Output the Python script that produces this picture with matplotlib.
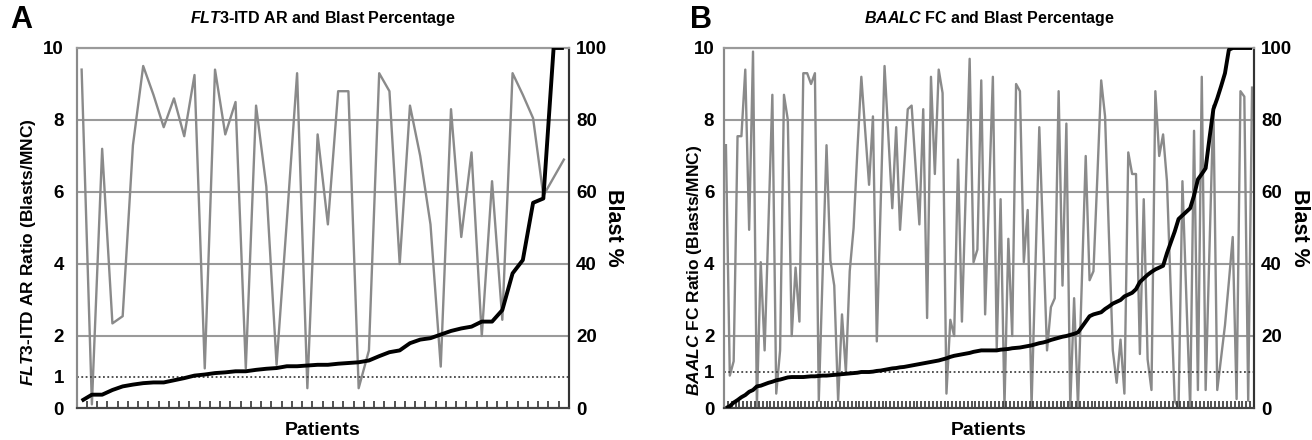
import numpy as np
import matplotlib
matplotlib.use("Agg")
import matplotlib.pyplot as plt

plt.rcParams['font.family'] = ['Liberation Sans', 'DejaVu Sans']
plt.rcParams['font.weight'] = 'bold'
plt.rcParams['mathtext.fontset'] = 'custom'
plt.rcParams['mathtext.it'] = 'Liberation Sans:italic:bold'
plt.rcParams['mathtext.rm'] = 'Liberation Sans:bold'

# ======== Panel A: FLT3-ITD allelic ratio, patients sorted by ratio ========
flt3_ratio = [0.2, 0.37, 0.37, 0.5, 0.6, 0.65, 0.69, 0.71, 0.71, 0.77, 0.83, 0.9,
              0.93, 0.97, 0.99, 1.02, 1.02, 1.06, 1.09, 1.11, 1.16, 1.16, 1.18, 1.2,
              1.2, 1.23, 1.25, 1.27, 1.32, 1.44, 1.55, 1.6, 1.8, 1.9, 1.94, 2.04,
              2.14, 2.21, 2.26, 2.4, 2.4, 2.72, 3.74, 4.11, 5.7, 5.82, 10, 10]
flt3_blast = [94, 1, 72, 23.5, 25.5, 73, 95, 87, 78, 86, 75.5, 92.5,
              11, 94, 76, 85, 11, 84, 61.5, 12, 52, 93, 5.5, 76,
              51, 88, 88, 5.5, 16, 93, 88, 40, 84, 70, 51, 11.5,
              83, 47.5, 71, 20, 63, 24.5, 93, 87, 80.5, 59, 64, 69]

# ======== Panel B: BAALC fold change, patients sorted by FC ========
baalc_fc = [0, 0.05, 0.15, 0.22, 0.3, 0.36, 0.45, 0.5, 0.6, 0.62, 0.66, 0.7,
            0.73, 0.77, 0.79, 0.82, 0.85, 0.86, 0.86, 0.86, 0.86, 0.87, 0.88, 0.88,
            0.89, 0.9, 0.9, 0.91, 0.92, 0.93, 0.94, 0.95, 0.96, 0.97, 0.98,
            1.0, 1.0, 1.0, 1.01, 1.03, 1.04, 1.06, 1.08, 1.1, 1.11, 1.13, 1.14,
            1.16, 1.18, 1.2, 1.22, 1.24, 1.26, 1.28, 1.3, 1.32, 1.35, 1.38, 1.42,
            1.45, 1.47, 1.49, 1.51, 1.53, 1.56, 1.58, 1.6,
            1.6, 1.6, 1.6, 1.6, 1.62, 1.63, 1.64, 1.66, 1.67, 1.68, 1.7, 1.72,
            1.74, 1.77, 1.8, 1.82, 1.85, 1.89, 1.92, 1.95, 1.98, 2.0, 2.03, 2.06,
            2.1, 2.25, 2.4, 2.55, 2.6, 2.63, 2.66, 2.75, 2.82, 2.9,
            2.95, 3.0, 3.1, 3.15, 3.2, 3.3, 3.5, 3.6, 3.7, 3.78, 3.85, 3.9,
            3.95, 4.3, 4.6, 4.9, 5.25, 5.35, 5.45, 5.55, 5.9, 6.35, 6.5, 6.66,
            7.5, 8.3, 8.6, 8.94, 9.3, 9.95, 10, 10, 10, 10, 10, 10]
baalc_blast = [73, 9, 13, 75.5, 75.5, 94, 49.5, 99, 0.5, 40.5, 16, 51,
               87, 4, 16, 87, 80, 20, 39, 24, 93, 93, 90, 93,
               2, 37, 73, 41, 34, 2, 26, 10, 38, 50, 72,
               92, 77, 62, 81, 18.5, 57, 95, 75, 55.5, 78, 49.5, 66,
               83, 84, 67.5, 51, 83, 25, 92, 65, 94, 87.5, 4, 24.5,
               20, 69, 24, 60, 97, 40.5, 44, 91,
               26, 59, 92, 16.5, 58, 0.5, 47, 20, 90, 88, 40.5, 55,
               0.5, 39, 78, 47, 16, 28, 30.5, 88, 34, 79, 0.5, 30.5,
               0.5, 35, 70, 35.5, 38, 64, 91, 81, 48, 16,
               7, 19, 4, 71, 65, 65, 15, 58, 13.5, 5, 88, 70,
               76, 63, 32, 2, 0, 63, 31, 0, 77, 5, 92, 5,
               44, 84, 5, 14, 23, 35, 47.5, 2.5, 88, 86.5, 2, 89]

ratio_ticks = [0, 1, 2, 4, 6, 8, 10]
blast_ticks = [0, 20, 40, 60, 80, 100]

W, H = 1312, 440
fig = plt.figure(figsize=(W / 100, H / 100), dpi=100)


def draw_panel(px_left, px_right, ratio, blast, title, ylab, letter, one_pos,
               ylab_x, ylab_y, letter_x, right_lab_x, tick_pad):
    px_top, px_bot = 48, 408
    ax = fig.add_axes([px_left / W, 1 - px_bot / H,
                       (px_right - px_left) / W, (px_bot - px_top) / H])
    axb = ax.twinx()
    ax.set_zorder(axb.get_zorder() + 1)
    ax.patch.set_visible(False)

    n = len(ratio)
    x = np.arange(n)
    for v in blast_ticks[1:]:
        axb.axhline(v, color='#9a9a9a', lw=1.5, zorder=0.5)
    axb.plot(x, blast, color='#8a8a8a', lw=1.7, zorder=2)
    ax.axhline(one_pos, color='#444444', lw=1.3, ls=(0, (1, 1.4)), zorder=1)
    ax.plot(x, ratio, color='black', lw=2.8, zorder=3, solid_capstyle='butt')

    ax.set_xlim(-0.5, n - 0.5)
    ax.set_ylim(0, 10)
    axb.set_ylim(0, 100)

    ax.set_yticks([0, one_pos, 2, 4, 6, 8, 10])
    ax.set_yticklabels([str(t) for t in ratio_ticks])
    axb.set_yticks(blast_ticks)
    axb.set_yticklabels([str(t) for t in blast_ticks])
    ax.tick_params(axis='y', length=0, pad=tick_pad, labelsize=13.5)
    axb.tick_params(axis='y', length=0, pad=5, labelsize=13.5)

    ax.set_xticks(np.arange(-0.5, n, 1.0))
    ax.set_xticklabels([])
    ax.tick_params(axis='x', length=5, width=1.2, direction='in', color='#333333')

    for a in (ax, axb):
        a.spines['top'].set_color('#9a9a9a')
        a.spines['left'].set_color('#8a8a8a')
        a.spines['right'].set_color('#333333')
        a.spines['bottom'].set_color('#444444')
        for s in a.spines.values():
            s.set_linewidth(1.5)

    cx = (px_left + px_right) / 2 / W
    fig.text(cx, 1 - 18 / H, title, ha='center', va='center', fontsize=11.5)
    fig.text(cx, 1 - 430 / H, 'Patients', ha='center', va='center', fontsize=14)
    fig.text(ylab_x / W, 1 - ylab_y / H, ylab, ha='center', va='center',
             rotation=90, fontsize=12.5)
    fig.text(right_lab_x / W, 1 - 228 / H, 'Blast %', ha='center', va='center',
             rotation=270, fontsize=15.5)
    fig.text(letter_x / W, 1 - 20 / H, letter, ha='center', va='center', fontsize=22)


draw_panel(76.5, 569, flt3_ratio, flt3_blast,
           r'$\mathit{FLT3}$-ITD AR and Blast Percentage',
           r'$\mathit{FLT3}$-ITD AR Ratio (Blasts/MNC)', 'A', 0.87,
           29, 252, 21, 614, 9)
draw_panel(724, 1254, baalc_fc, baalc_blast,
           r'$\mathit{BAALC}$ FC and Blast Percentage',
           r'$\mathit{BAALC}$ FC Ratio (Blasts/MNC)', 'B', 1.0,
           694, 270, 701, 1299, 7)

fig.savefig('out.png', dpi=100)
